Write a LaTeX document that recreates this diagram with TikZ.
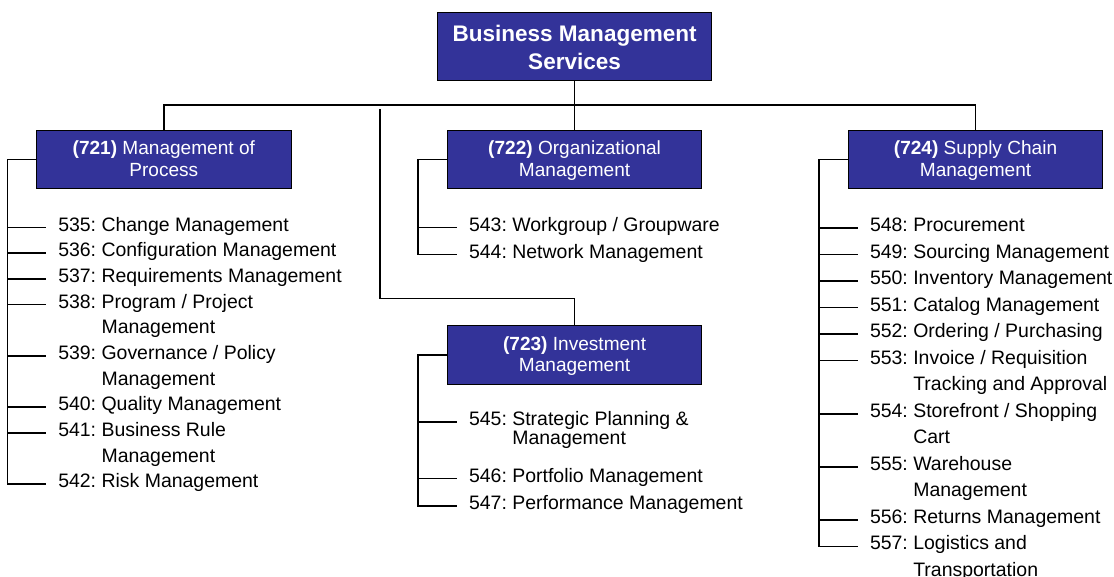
\documentclass[tikz,border=0pt]{standalone}
\usepackage{fontspec}
\setmainfont{Liberation Sans}
\usepackage{tikz}
\usetikzlibrary{positioning}
\definecolor{bmsblue}{RGB}{51,51,153}
\tikzset{
	srvbox/.style={
		rectangle,
		draw=black,
		fill=bmsblue,
		text=white,
		line width=0.8pt,
		minimum width=190.9pt,
		minimum height=43.9pt,
		inner sep=0pt,
		font=\fontsize{14.3pt}{16.1pt}\selectfont,
		text centered,
	},
	leaf/.style={
		inner xsep=9pt,
		inner ysep=0pt,
		font=\fontsize{14.6pt}{#1}\selectfont,
	},
	leaf/.default=19.25pt,
	link/.style={
		line width=1.2pt,
	},
}
\begin{document}
\begin{tikzpicture}[x=0.75pt,y=0.75pt]
	\useasboundingbox (0,0) rectangle (1114,-576);
	
	\node[srvbox,
	minimum width=205.6pt,
	minimum height=51.3pt,
	font=\fontsize{16.9pt}{21pt}\selectfont\bfseries] (BMS) at (574.6,-46.5)
	{
		\raisebox{-2.2pt}[\height][\depth]{\begin{tabular}{c}
		Business Management\\
		Services
		\end{tabular}}
	};
	
	\node[srvbox,
	below=36.2pt of BMS] (ORG)
	{
		\raisebox{-1.5pt}[\height][\depth]{\begin{tabular}{c}
		\textbf{(722)} Organizational\\
		Management
		\end{tabular}}
	};
	
	\node[srvbox,
	left=116.4pt of ORG] (PROCESS)
	{
		\raisebox{-1.5pt}[\height][\depth]{\begin{tabular}{c}
		\textbf{(721)} Management of\\
		Process
		\end{tabular}}
	};
	
	\node[srvbox,
	right=109pt of ORG] (SUPPLY)
	{
		\raisebox{-1.5pt}[\height][\depth]{\begin{tabular}{c}
		\textbf{(724)} Supply Chain\\
		Management
		\end{tabular}}
	};
	
	\node[srvbox,
	below=102pt of ORG] (INVEST)
	{
		\raisebox{-1.5pt}[\height][\depth]{\begin{tabular}{c}
		\textbf{(723)} Investment\\
		Management
		\end{tabular}}
	};
	
	% management of process
	\node[leaf,
	below right=31.5pt and 7.5pt of PROCESS.south west,
	anchor=base west] (CHANGE)
	{
		\begin{tabular}[t]{@{}l@{\ }l@{}}
		535: & Change Management
		\end{tabular}
	};
	
	\node[leaf,
	below=19.25pt of CHANGE.base west,
	anchor=base west] (CONFIG)
	{
		\begin{tabular}[t]{@{}l@{\ }l@{}}
		536: & Configuration Management
		\end{tabular}
	};
	
	\node[leaf,
	below=19.25pt of CONFIG.base west,
	anchor=base west] (REQ)
	{
		\begin{tabular}[t]{@{}l@{\ }l@{}}
		537: & Requirements Management
		\end{tabular}
	};
	
	\node[leaf,
	below=19.25pt of REQ.base west,
	anchor=base west] (PROGRAM)
	{
		\begin{tabular}[t]{@{}l@{\ }l@{}}
		538: & Program / Project\\
		& Management
		\end{tabular}
	};
	
	\node[leaf,
	below=38.5pt of PROGRAM.base west,
	anchor=base west] (GOVERN)
	{
		\begin{tabular}[t]{@{}l@{\ }l@{}}
		539: & Governance / Policy\\
		& Management
		\end{tabular}
	};
	
	\node[leaf,
	below=38.5pt of GOVERN.base west,
	anchor=base west] (QUALITY)
	{
		\begin{tabular}[t]{@{}l@{\ }l@{}}
		540: & Quality Management
		\end{tabular}
	};
	
	\node[leaf,
	below=19.25pt of QUALITY.base west,
	anchor=base west] (RULE)
	{
		\begin{tabular}[t]{@{}l@{\ }l@{}}
		541: & Business Rule\\
		& Management
		\end{tabular}
	};
	
	\node[leaf,
	below=38.5pt of RULE.base west,
	anchor=base west] (RISK)
	{
		\begin{tabular}[t]{@{}l@{\ }l@{}}
		542: & Risk Management
		\end{tabular}
	};
	
	% organizational
	\node[leaf,
	below right=31.5pt and 7.5pt of ORG.south west,
	anchor=base west] (WORKGROUP)
	{
		\begin{tabular}[t]{@{}l@{\ }l@{}}
		543: & Workgroup / Groupware
		\end{tabular}
	};
	
	\node[leaf,
	below=20.25pt of WORKGROUP.base west,
	anchor=base west] (NETWORK)
	{
		\begin{tabular}[t]{@{}l@{\ }l@{}}
		544: & Network Management
		\end{tabular}
	};
	
	% investment
	\node[leaf,
	below right=30.6pt and 7.5pt of INVEST.south west,
	anchor=base west] (STRATEGIC)
	{
		\begin{tabular}[t]{@{}l@{\ }l@{}}
		545: & Strategic Planning \&\\[-5pt]
		& Management
		\end{tabular}
	};
	
	\node[leaf,
	below=42.5pt of STRATEGIC.base west,
	anchor=base west] (PORTFOLIO)
	{
		\begin{tabular}[t]{@{}l@{\ }l@{}}
		546: & Portfolio Management
		\end{tabular}
	};
	
	\node[leaf,
	below=20.5pt of PORTFOLIO.base west,
	anchor=base west] (PERFORM)
	{
		\begin{tabular}[t]{@{}l@{\ }l@{}}
		547: & Performance Management
		\end{tabular}
	};
	
	% supply chain
	\node[leaf=19.9pt,
	below right=31.8pt and 7.5pt of SUPPLY.south west,
	anchor=base west] (PROCURE)
	{
		\begin{tabular}[t]{@{}l@{\ }l@{}}
		548: & Procurement
		\end{tabular}
	};
	
	\node[leaf=19.9pt,
	below=19.9pt of PROCURE.base west,
	anchor=base west] (SOURCING)
	{
		\begin{tabular}[t]{@{}l@{\ }l@{}}
		549: & Sourcing Management
		\end{tabular}
	};
	
	\node[leaf=19.9pt,
	below=19.9pt of SOURCING.base west,
	anchor=base west] (INVENTORY)
	{
		\begin{tabular}[t]{@{}l@{\ }l@{}}
		550: & Inventory Management
		\end{tabular}
	};
	
	\node[leaf=19.9pt,
	below=19.9pt of INVENTORY.base west,
	anchor=base west] (CATALOG)
	{
		\begin{tabular}[t]{@{}l@{\ }l@{}}
		551: & Catalog Management
		\end{tabular}
	};
	
	\node[leaf=19.9pt,
	below=19.9pt of CATALOG.base west,
	anchor=base west] (ORDERING)
	{
		\begin{tabular}[t]{@{}l@{\ }l@{}}
		552: & Ordering / Purchasing
		\end{tabular}
	};
	
	\node[leaf=19.9pt,
	below=19.9pt of ORDERING.base west,
	anchor=base west] (INVOICE)
	{
		\begin{tabular}[t]{@{}l@{\ }l@{}}
		553: & Invoice / Requisition\\
		& Tracking and Approval
		\end{tabular}
	};
	
	\node[leaf=19.9pt,
	below=39.8pt of INVOICE.base west,
	anchor=base west] (STOREFRONT)
	{
		\begin{tabular}[t]{@{}l@{\ }l@{}}
		554: & Storefront / Shopping\\
		& Cart
		\end{tabular}
	};
	
	\node[leaf=19.9pt,
	below=39.8pt of STOREFRONT.base west,
	anchor=base west] (WAREHOUSE)
	{
		\begin{tabular}[t]{@{}l@{\ }l@{}}
		555: & Warehouse\\
		& Management
		\end{tabular}
	};
	
	\node[leaf=19.9pt,
	below=39.8pt of WAREHOUSE.base west,
	anchor=base west] (RETURNS)
	{
		\begin{tabular}[t]{@{}l@{\ }l@{}}
		556: & Returns Management
		\end{tabular}
	};
	
	\node[leaf=19.9pt,
	below=19.9pt of RETURNS.base west,
	anchor=base west] (LOGISTICS)
	{
		\begin{tabular}[t]{@{}l@{\ }l@{}}
		557: & Logistics and\\
		& Transportation
		\end{tabular}
	};
	
	% bends of the tree
	\coordinate[below=17.7pt of BMS.south] (BUS);
	\coordinate (INVTOP) at (380,-109.3);
	\coordinate[above=20pt of INVEST.north] (INVBEND);
	\coordinate[left=21.5pt of PROCESS.west] (S721);
	\coordinate[left=21.5pt of ORG.west] (S722);
	\coordinate[left=21.5pt of INVEST.west] (S723);
	\coordinate[left=21.5pt of SUPPLY.west] (S724);
	
	\draw[link] (BMS.south) -- (BUS) -| (PROCESS.north);
	\draw[link] (BUS) -| (SUPPLY.north);
	\draw[link] (BUS) -- (ORG.north);
	\draw[link] (INVTOP) |- (INVBEND) -- (INVEST.north);
	
	\draw[link] (PROCESS.west) -- (S721) |- (RISK.mid west);
	\draw[link] (ORG.west) -- (S722) |- (NETWORK.mid west);
	\draw[link] (INVEST.west) -- (S723) |- (PERFORM.mid west);
	\draw[link] (SUPPLY.west) -- (S724) |- (LOGISTICS.mid west);
	
	\path[link]
	(S721 |- CHANGE.mid west) edge (CHANGE.mid west)
	(S721 |- CONFIG.mid west) edge (CONFIG.mid west)
	(S721 |- REQ.mid west) edge (REQ.mid west)
	(S721 |- PROGRAM.mid west) edge (PROGRAM.mid west)
	(S721 |- GOVERN.mid west) edge (GOVERN.mid west)
	(S721 |- QUALITY.mid west) edge (QUALITY.mid west)
	(S721 |- RULE.mid west) edge (RULE.mid west)
	(S722 |- WORKGROUP.mid west) edge (WORKGROUP.mid west)
	(S723 |- STRATEGIC.mid west) edge (STRATEGIC.mid west)
	(S723 |- PORTFOLIO.mid west) edge (PORTFOLIO.mid west)
	(S724 |- PROCURE.mid west) edge (PROCURE.mid west)
	(S724 |- SOURCING.mid west) edge (SOURCING.mid west)
	(S724 |- INVENTORY.mid west) edge (INVENTORY.mid west)
	(S724 |- CATALOG.mid west) edge (CATALOG.mid west)
	(S724 |- ORDERING.mid west) edge (ORDERING.mid west)
	(S724 |- INVOICE.mid west) edge (INVOICE.mid west)
	(S724 |- STOREFRONT.mid west) edge (STOREFRONT.mid west)
	(S724 |- WAREHOUSE.mid west) edge (WAREHOUSE.mid west)
	(S724 |- RETURNS.mid west) edge (RETURNS.mid west);
	
\end{tikzpicture}
\end{document}
